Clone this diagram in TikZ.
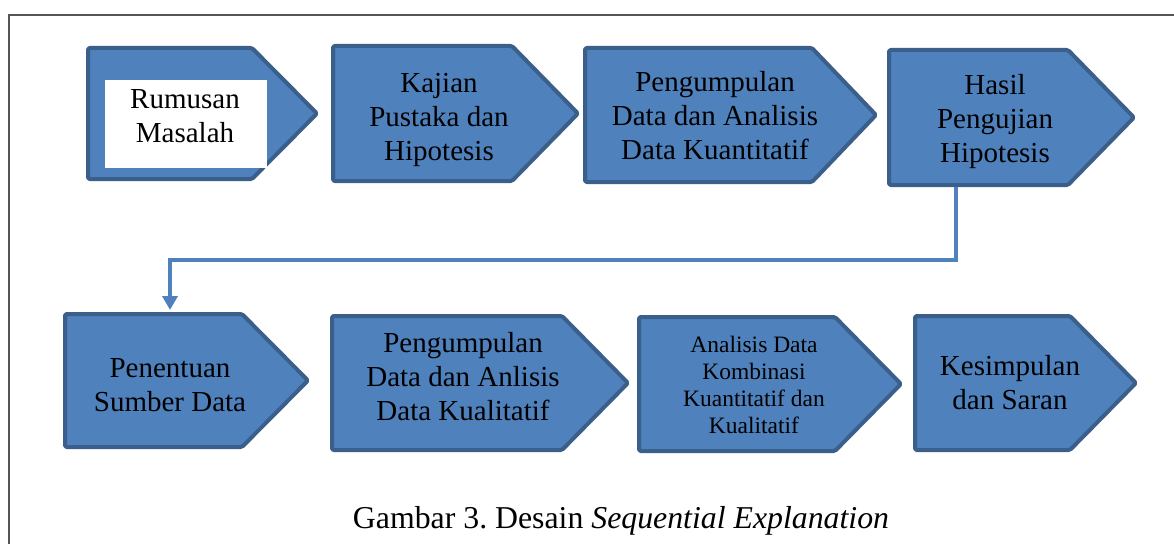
\documentclass[tikz,border=0pt]{standalone}
\usepackage{fontspec}
\setmainfont{Liberation Serif}
\usetikzlibrary{arrows.meta}
\definecolor{boxfill}{HTML}{4F81BD}
\definecolor{boxline}{HTML}{3A5F8B}
\definecolor{framegray}{HTML}{555555}
\tikzset{
  chev/.style={fill=boxfill, draw=boxline, line width=4pt, line join=round, rounded corners=1.5pt},
  bigtext/.style={anchor=base, align=center, inner sep=0pt, font=\fontsize{29}{34}\selectfont},
  smalltext/.style={anchor=base, align=center, inner sep=0pt, font=\fontsize{23.5}{27}\selectfont},
  captext/.style={anchor=base, inner sep=0pt, font=\fontsize{31.8}{36}\selectfont},
  link/.style={draw=boxfill, line width=4.5pt, -{Triangle[width=15pt,length=14pt]}},
}
% \chevpath{L}{T}{C}{P}{B}
\newcommand{\chevpath}[5]{(#1,#2) -- (#3,#2) -- (#4,{(#2+#5)/2}) -- (#3,#5) -- (#1,#5) -- cycle}
\begin{document}
\frenchspacing
\begin{tikzpicture}[x=1pt,y=-1pt]
\useasboundingbox (0,0) rectangle (1174,543);
\clip (0,0) rectangle (1174,543);
% frame
\draw[framegray, line width=2pt] (8.5,560) -- (8.5,15) -- (1190,15);
% row 1 shapes
\draw[chev] \chevpath{88}{48}{252}{317}{179};
\draw[chev] \chevpath{333}{46}{512}{578}{181};
\draw[chev] \chevpath{585}{48}{812}{876}{182};
\draw[chev] \chevpath{889}{50}{1068}{1134}{185};
% row 2 shapes
\draw[chev] \chevpath{65}{314}{242}{308}{447};
\draw[chev] \chevpath{332}{316}{562}{628}{450};
\draw[chev] \chevpath{639}{317}{835}{901}{451};
\draw[chev] \chevpath{915}{316}{1070}{1136}{450};
% white box of first shape
\fill[white] (105,80) rectangle (267,168);
% texts (anchor base = baseline of last line)
\node[bigtext] (rumusan) at (185,142) {Rumusan\\Masalah};
\node[bigtext] (kajian) at (439,160) {Kajian\\Pustaka dan\\Hipotesis};
\node[bigtext] (kuan) at (715,159) {Pengumpulan\\Data dan Analisis\\Data Kuantitatif};
\node[bigtext] (hasil) at (995,162) {Hasil\\Pengujian\\Hipotesis};
\node[bigtext] (penentuan) at (170,411) {Penentuan\\Sumber Data};
\node[bigtext] (kual) at (463,420) {Pengumpulan\\Data dan Anlisis\\Data Kualitatif};
\node[smalltext] (kombinasi) at (754,433) {Analisis Data\\Kombinasi\\Kuantitatif dan\\Kualitatif};
\node[bigtext] (kesimpulan) at (1010,409) {Kesimpulan\\dan Saran};
\node[captext] (caption) at (621,528) {Gambar 3. Desain \textit{Sequential Explanation}};
% connector
\coordinate (hasilbottom) at (956,187);
\coordinate (penentuantop) at (170,310);
\draw[link] (hasilbottom) -- ++(0,73) -| (penentuantop);
\end{tikzpicture}
\end{document}
